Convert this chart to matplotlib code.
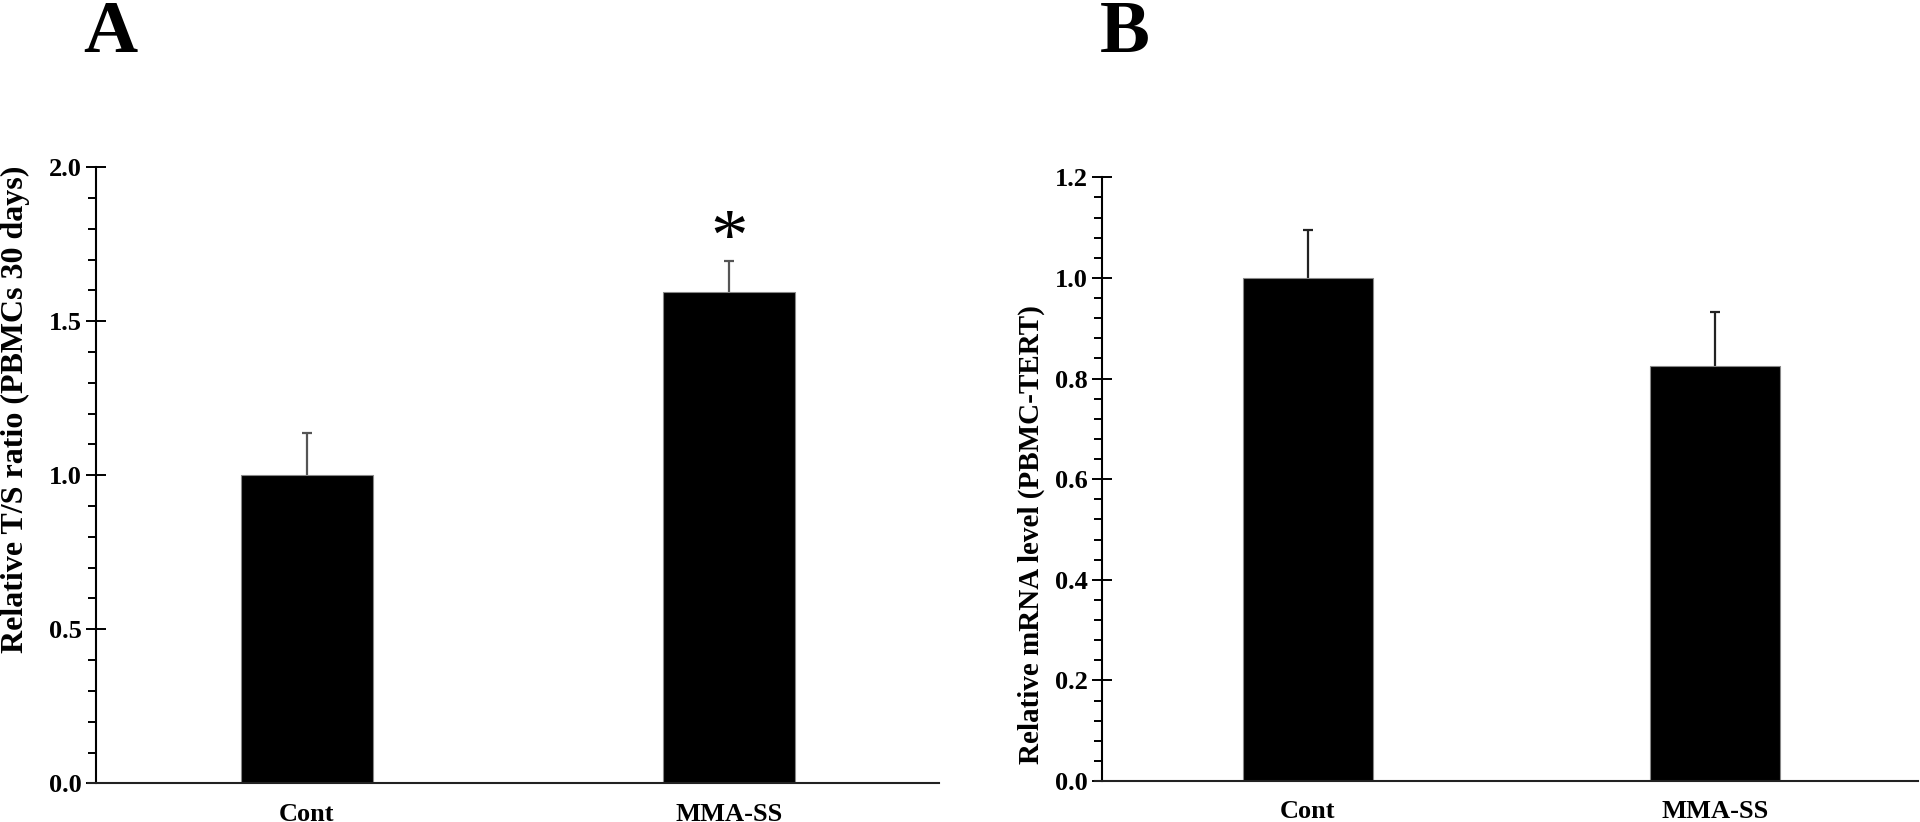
import matplotlib
matplotlib.use("Agg")
import matplotlib.pyplot as plt
from matplotlib.ticker import MultipleLocator

plt.rcParams['font.family'] = ['Liberation Serif', 'DejaVu Serif']
plt.rcParams['font.weight'] = 'bold'

# data
groups = ["Cont", "MMA-SS"]
ts_ratio = [1.0, 1.595]
ts_err = [0.136, 0.10]
tert_mrna = [1.0, 0.825]
tert_err = [0.095, 0.107]

W, H = 1920, 822
fig = plt.figure(figsize=(W / 100, H / 100), dpi=100)


def px_axes(x0, x1, y_top, y_bot):
    return fig.add_axes([x0 / W, 1 - y_bot / H, (x1 - x0) / W, (y_bot - y_top) / H])


def style(ax, yaxis_px, x0, x1, ymax, major, minor, errcolor, vals, errs, width, xl):
    xs = range(len(groups))
    ax.bar(xs, vals, width=width, color='black',
           edgecolor='#888888', linewidth=0.8, zorder=2)
    # upper error bars only
    ax.errorbar(xs, vals, yerr=[[0] * len(errs), errs], fmt='none',
                ecolor=errcolor, elinewidth=1.6, capsize=0, zorder=1)
    tops = [v + e for v, e in zip(vals, errs)]
    ax.plot(xs, tops, ls='none', marker='_', markersize=6.6, mew=1.6, color=errcolor)
    ax.set_xlim(*xl)
    ax.set_ylim(0, ymax)
    for s in ['top', 'right']:
        ax.spines[s].set_visible(False)
    ax.spines['left'].set_position(('axes', (yaxis_px - x0) / (x1 - x0)))
    ax.spines['left'].set_linewidth(1.5)
    ax.spines['bottom'].set_linewidth(1.5)
    ax.spines['bottom'].set_color('#222222')
    ax.yaxis.set_major_locator(MultipleLocator(major))
    ax.yaxis.set_minor_locator(MultipleLocator(minor))
    ax.tick_params(axis='y', which='major', direction='inout', length=15, width=1.4,
                   labelsize=19, pad=3)
    ax.tick_params(axis='y', which='minor', direction='out', length=6, width=1.4)
    ax.set_xticks(xs)
    ax.set_xticklabels(groups, fontsize=19, fontweight='bold')
    ax.tick_params(axis='x', length=0, pad=14)
    ax.yaxis.set_major_formatter(matplotlib.ticker.FormatStrFormatter('%.1f'))


# panel A
axA = px_axes(88, 939, 167.3, 783.3)
style(axA, 96, 88, 939, 2.0, 0.5, 0.1, '#555555', ts_ratio, ts_err, 0.314,
      (-0.519, 1.498))
axA.text(1, 1.757, "*", ha='center', va='center', fontsize=54, fontweight='normal')
fig.text(15 / W, 1 - 409 / H, "Relative T/S ratio (PBMCs 30 days)", rotation=90,
         ha='center', va='center', fontsize=23, fontweight='bold')
fig.text(110 / W, 1 - 52 / H, "A", ha='center', va='baseline', fontsize=54, fontweight='bold')

# panel B
axB = px_axes(1095, 1918, 177.3, 781)
style(axB, 1102, 1095, 1918, 1.2, 0.2, 0.04, '#222222', tert_mrna, tert_err, 0.32,
      (-0.523, 1.499))
fig.text(1031 / W, 1 - 535 / H, "Relative mRNA level (PBMC-TERT)", rotation=90,
         ha='center', va='center', fontsize=21, fontweight='bold')
fig.text(1125 / W, 1 - 52 / H, "B", ha='center', va='baseline', fontsize=54, fontweight='bold')

fig.savefig("out.png", dpi=100)
